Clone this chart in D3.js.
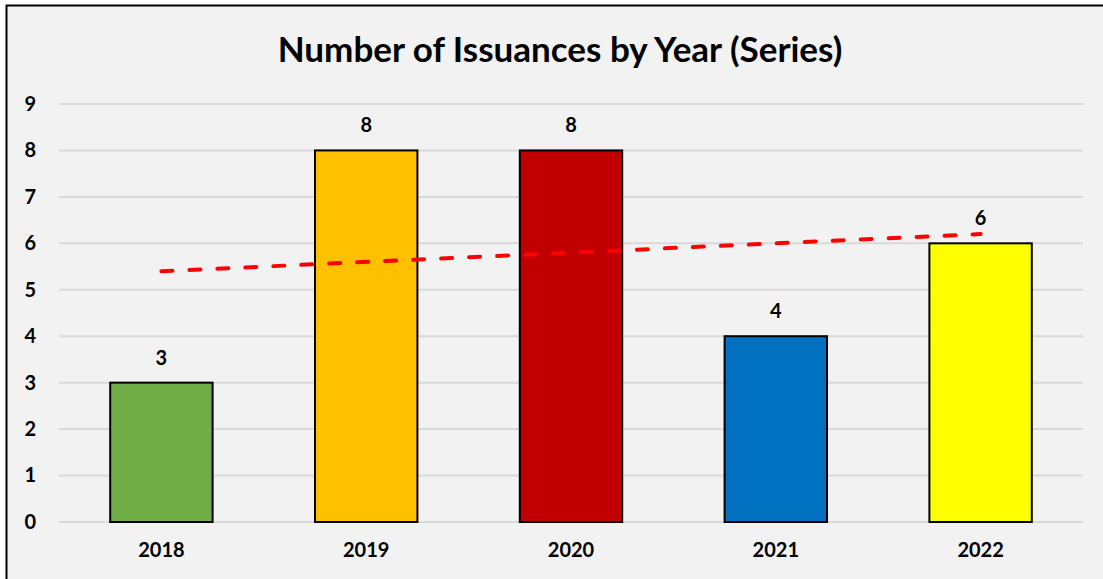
<!DOCTYPE html>
<html>
<head>
<meta charset="utf-8">
<script src="https://cdn.jsdelivr.net/npm/d3@7"></script>
<style>
  body { margin: 0; background: #fff; }
  svg { display: block; font-family: Lato, "Open Sans", sans-serif; }
</style>
</head>
<body>
<div id="chart_div"></div>
<script>
const years = ["2018", "2019", "2020", "2021", "2022"];
const issuances = [3, 8, 8, 4, 6];
const barColors = ["#70ad47", "#ffc000", "#c00000", "#0070c0", "#ffff00"];
const yTicks = [0, 1, 2, 3, 4, 5, 6, 7, 8, 9];

const width = 1103;
const height = 579;

const svg = d3.select("#chart_div")
    .append("svg")
    .attr("width", width)
    .attr("height", height);

// Background and frame
svg.append("rect")
    .attr("x", 6.5).attr("y", 5.5)
    .attr("width", width + 10).attr("height", height + 10)
    .attr("fill", "#f2f2f2")
    .attr("stroke", "#000")
    .attr("stroke-width", 2);

// Title
svg.append("text")
    .attr("x", 560)
    .attr("y", 62)
    .attr("text-anchor", "middle")
    .attr("font-size", 35)
    .attr("font-weight", "bold")
    .text("Number of Issuances by Year (Series)");

// Scales
const x = d3.scaleBand()
    .domain(years)
    .range([59, 1083])
    .paddingInner(0.5)
    .paddingOuter(0.25);

const y = d3.scaleLinear()
    .domain([0, 9])
    .range([522, 104]);

// Gridlines
svg.append("g")
    .selectAll("line")
    .data(yTicks)
    .enter()
    .append("line")
    .attr("x1", 59).attr("x2", 1083)
    .attr("y1", d => y(d)).attr("y2", d => y(d))
    .attr("stroke", "#d9d9d9")
    .attr("stroke-width", 2);

// Y axis labels
const yAxis = svg.append("g")
    .attr("transform", "translate(36,0)")
    .call(d3.axisLeft(y).tickValues(yTicks).tickSize(0).tickPadding(0));
yAxis.select(".domain").remove();
yAxis.selectAll("text")
    .attr("font-family", "Lato, sans-serif")
    .attr("font-size", 20)
    .attr("font-weight", "bold")
    .attr("fill", "#000");

// X axis labels
const xAxis = svg.append("g")
    .attr("transform", "translate(0,543)")
    .call(d3.axisBottom(x).tickSize(0).tickPadding(0));
xAxis.select(".domain").remove();
xAxis.selectAll("text")
    .attr("font-family", "Lato, sans-serif")
    .attr("font-size", 20)
    .attr("font-weight", "bold")
    .attr("fill", "#000");

// Bars
svg.append("g")
    .selectAll("rect")
    .data(years)
    .enter()
    .append("rect")
    .attr("x", d => x(d))
    .attr("y", (d, i) => y(issuances[i]))
    .attr("width", x.bandwidth())
    .attr("height", (d, i) => y(0) - y(issuances[i]))
    .attr("fill", (d, i) => barColors[i])
    .attr("stroke", "#000")
    .attr("stroke-width", 2);

// Value labels
svg.append("g")
    .selectAll("text")
    .data(years)
    .enter()
    .append("text")
    .attr("x", d => x(d) + x.bandwidth() / 2)
    .attr("y", (d, i) => y(issuances[i]) - 18)
    .attr("text-anchor", "middle")
    .attr("font-size", 20)
    .attr("font-weight", "bold")
    .text((d, i) => issuances[i]);

// Linear trendline
const n = issuances.length;
const xs = d3.range(n);
const mx = d3.mean(xs);
const my = d3.mean(issuances);
const slope = d3.sum(xs, (v, i) => (v - mx) * (issuances[i] - my)) / d3.sum(xs, v => (v - mx) ** 2);
const intercept = my - slope * mx;

svg.append("line")
    .attr("x1", x(years[0]) + x.bandwidth() / 2)
    .attr("x2", x(years[n - 1]) + x.bandwidth() / 2)
    .attr("y1", y(intercept))
    .attr("y2", y(intercept + slope * (n - 1)))
    .attr("stroke", "#ff0000")
    .attr("stroke-width", 4)
    .attr("stroke-dasharray", "11 17")
    .attr("stroke-linecap", "round");
</script>
</body>
</html>
